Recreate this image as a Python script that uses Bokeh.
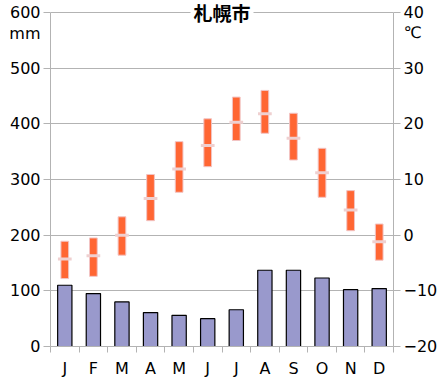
from bokeh.plotting import figure
from bokeh.models import Range1d, LinearAxis, FixedTicker, Label
from bokeh.embed import file_html
from bokeh.resources import INLINE

months = ["J", "F", "M", "A", "M", "J", "J", "A", "S", "O", "N", "D"]
precip = [110, 95, 80, 61, 56, 50, 66, 137, 137, 123, 102, 104]
t_max = [-1.1, -0.5, 3.3, 10.9, 16.8, 20.9, 24.8, 26.0, 21.9, 15.6, 8.0, 2.0]
t_min = [-7.8, -7.4, -3.6, 2.6, 7.7, 12.3, 17.0, 18.3, 13.5, 6.8, 0.8, -4.5]
t_mean = [-4.3, -3.7, 0.0, 6.6, 11.9, 16.1, 20.3, 21.8, 17.4, 11.2, 4.5, -1.2]
precip_ticks = [0, 100, 200, 300, 400, 500, 600]
temp_ticks = [-20, -10, 0, 10, 20, 30, 40]
title_text = "札幌市"
unit_left = "mm"
unit_right = "℃"

xc = [i + 0.5 for i in range(len(months))]
bounds = list(range(len(months) + 1))

GRID = "#b3b3b3"
FONT = "DejaVu Sans"

# frame: 343 x 345 px; 600 mm spans the lower 335 px, 10 px headroom for the title
P_TOP = 600 + 10 * 600 / 335
T_TOP = 40 + 10 * 60 / 335
mm_pos = 600 - 21 * 600 / 335
c_pos = 40 - 20 * 60 / 335

p = figure(width=440, height=380, x_range=Range1d(0, 12), y_range=Range1d(0, P_TOP),
           output_backend="svg", toolbar_location=None,
           min_border_left=50, min_border_right=47, min_border_top=2, min_border_bottom=33)
p.extra_y_ranges = {"temp": Range1d(-20, T_TOP)}
p.outline_line_color = None
p.background_fill_color = "white"

p.xgrid.visible = False
p.ygrid.ticker = FixedTicker(ticks=precip_ticks)
p.ygrid.grid_line_color = GRID

# x axis
xa = p.xaxis[0]
xa.axis_label = None
xa.ticker = FixedTicker(ticks=xc, minor_ticks=bounds)
xa.major_label_overrides = {x: m for x, m in zip(xc, months)}
xa.major_tick_line_color = None
xa.major_tick_out = 0
xa.major_tick_in = 0
xa.minor_tick_line_color = GRID
xa.minor_tick_out = 6
xa.minor_tick_in = 0
xa.axis_line_color = GRID
xa.major_label_text_font = FONT
xa.major_label_text_font_size = "16px"
xa.major_label_text_color = "black"
xa.major_label_standoff = 6


def style_y(ax, ticks, extra, extra_text):
    ax.axis_label = None
    ax.ticker = FixedTicker(ticks=ticks + [extra], minor_ticks=ticks)
    ax.major_label_overrides = {extra: extra_text}
    ax.bounds = (ticks[0], ticks[-1])
    ax.major_tick_line_color = None
    ax.major_tick_out = 7
    ax.major_tick_in = 0
    ax.minor_tick_line_color = GRID
    ax.minor_tick_out = 7
    ax.minor_tick_in = 0
    ax.axis_line_color = GRID
    ax.major_label_text_font = FONT
    ax.major_label_text_font_size = "16px"
    ax.major_label_text_color = "black"
    ax.major_label_standoff = 3


style_y(p.yaxis[0], precip_ticks, mm_pos, unit_left)
ra = LinearAxis(y_range_name="temp")
style_y(ra, temp_ticks, c_pos, unit_right)
p.add_layout(ra, "right")

p.vbar(x=xc, top=precip, bottom=0, width=0.5, fill_color="#9999cc",
       line_color="black", line_width=1.2)
p.vbar(x=xc, top=t_max, bottom=t_min, width=0.27, y_range_name="temp",
       fill_color="#ff6633", line_color="#f2c4c4", line_width=1)
p.rect(x=xc, y=t_mean, width=0.48, height=3, height_units="screen",
       y_range_name="temp", fill_color="#efd0d0", line_color=None)

p.add_layout(Label(x=6, y=600, text=title_text, text_font="Noto Sans CJK JP",
                   text_font_style="bold", text_font_size="19px", text_align="center",
                   text_baseline="middle", text_color="black",
                   background_fill_color="white", padding=3))

open("out.html", "w").write(file_html(p, INLINE))
